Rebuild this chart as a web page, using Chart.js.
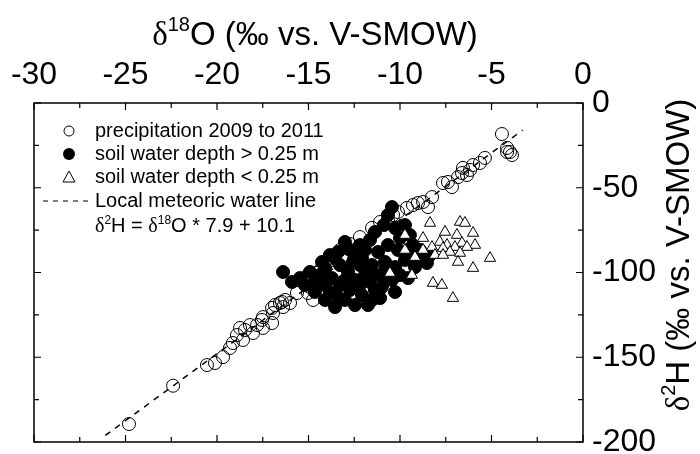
<!DOCTYPE html>
<html>
<head>
<meta charset="utf-8">
<script src="https://cdn.jsdelivr.net/npm/chart.js@4/dist/chart.umd.min.js"></script>
<style>
  body { margin: 0; background: #fff; }
</style>
</head>
<body>
<canvas id="chart" width="700" height="454"></canvas>
<script>
// axis ranges / ticks
var xMajor = [-30, -25, -20, -15, -10, -5, 0];
var xMinor = [-27.5, -22.5, -17.5, -12.5, -7.5, -2.5];
var yMajor = [0, -50, -100, -150, -200];
var yMinor = [-25, -75, -125, -175];

// precipitation 2009 to 2011 (open circles)
var precipX = [-24.81, -22.40, -20.55, -20.11, -19.67, -19.29, -19.13, -18.91, -18.58, -18.47,
  -18.03, -17.81, -17.54, -17.49, -16.99, -16.94, -16.83, -16.45, -16.28, -16.99,
  -16.56, -16.01, -15.63, -15.19, -15.03, -15.03, -15.08, -14.92, -14.54, -14.75,
  -13.99, -16.39, -17.49, -18.20, -18.74, -13.28, -12.73, -12.19, -11.53, -11.09,
  -10.66, -10.38, -10.11, -9.62, -9.29, -9.02, -8.74, -8.47, -8.25, -7.65,
  -7.38, -7.16, -6.83, -6.61, -6.34, -6.17, -6.01, -5.63, -5.36, -6.56,
  -4.43, -4.15, -3.99, -3.88, -4.15, -14.37, -13.66];
var precipY = [-189.4, -166.8, -154.6, -153.4, -149.9, -144.5, -141.6, -136.9, -139.8, -133.9,
  -135.7, -131.0, -128.0, -132.7, -129.8, -123.9, -119.2, -117.4, -116.2, -120.9,
  -118.0, -118.0, -112.1, -106.2, -101.5, -112.1, -104.4, -108.6, -100.3, -116.2,
  -94.4, -120.4, -126.3, -131.0, -132.7, -86.7, -83.2, -79.1, -73.7, -70.2,
  -69.0, -66.1, -64.3, -61.9, -60.2, -59.0, -58.4, -61.4, -55.5, -47.2,
  -46.6, -49.6, -43.7, -41.3, -42.5, -39.5, -36.6, -35.4, -32.4, -38.3,
  -18.3, -26.5, -28.9, -30.7, -28.9, -98.5, -91.4];

// soil water depth > 0.25 m (filled circles)
var deepX = [-10.44, -10.66, -10.88, -10.27, -9.73, -10.0, -9.46, -9.29, -8.91, -9.02,
  -8.53, -8.36, -9.18, -9.73, -10.27, -10.82, -10.44, -10.93, -10.99, -11.37,
  -11.64, -11.91, -11.53, -12.19, -12.46, -11.91, -11.64, -11.37, -12.19, -12.73,
  -13.01, -13.39, -13.55, -13.28, -12.84, -12.46, -12.73, -13.28, -13.72, -14.10,
  -14.37, -14.59, -14.10, -13.83, -13.39, -13.01, -12.46, -12.08, -11.75, -13.55,
  -14.10, -14.65, -15.19, -15.47, -15.90, -16.39, -14.92, -12.57, -12.08, -11.20,
  -10.66, -10.11, -9.56, -10.0, -9.56, -10.27, -11.09, -11.53, -12.19, -13.01,
  -13.83, -14.26, -10.82, -11.37, -11.91];
var deepY = [-61.4, -66.1, -72.0, -73.8, -72.0, -79.7, -77.9, -83.8, -86.7, -92.6,
  -94.4, -89.7, -96.8, -92.6, -96.8, -98.5, -104.4, -102.7, -108.6, -110.3,
  -105.6, -101.5, -95.6, -95.6, -89.7, -86.7, -80.8, -76.1, -83.8, -86.7,
  -82.0, -87.9, -91.5, -95.6, -99.7, -104.4, -110.3, -107.4, -103.3, -97.4,
  -101.5, -104.4, -107.4, -111.5, -114.5, -116.2, -119.2, -113.3, -119.2, -120.4,
  -116.2, -111.5, -107.4, -103.3, -105.6, -99.7, -99.7, -93.8, -91.5, -87.9,
  -83.8, -86.7, -86.7, -101.5, -103.3, -111.5, -115.1, -116.2, -107.4, -104.4,
  -89.7, -93.8, -93.8, -101.5, -97.4];

// soil water depth < 0.25 m (open triangles)
var shallowX = [-8.36, -6.72, -6.45, -7.54, -6.89, -6.01, -8.74, -9.73, -7.82, -7.43,
  -6.61, -5.90, -8.25, -7.65, -7.0, -6.34, -7.27, -6.72, -8.09, -7.65,
  -8.74, -9.18, -9.73, -6.83, -5.08, -6.01, -9.35, -10.55, -8.20, -7.71, -7.11];
var shallowY = [-70.8, -70.2, -70.8, -76.1, -77.9, -76.7, -79.7, -77.9, -82.0, -83.8,
  -82.6, -83.8, -85.0, -85.6, -85.0, -85.0, -87.9, -88.5, -89.7, -89.7,
  -86.7, -90.9, -86.7, -93.8, -91.5, -97.4, -101.5, -100.3, -106.2, -107.4, -115.1];

// local meteoric water line, end points
var lmwlX = [-26.1, -3.3];
var lmwlY = [-196.1, -16.0];

var FONT = '"Liberation Sans", Arial, sans-serif';
var SERIF = '"Liberation Serif", "Times New Roman", serif';

function toPoints(xs, ys) {
  var pts = [];
  for (var i = 0; i < xs.length; i++) {
    pts.push({ x: xs[i], y: ys[i] });
  }
  return pts;
}

// text made of pieces: [text, kind] with kind '', 'serif' or 'sup'
function partFont(kind, size) {
  if (kind === 'serif') return size + 'px ' + SERIF;
  if (kind === 'sup') return Math.round(size * 0.6) + 'px ' + FONT;
  return size + 'px ' + FONT;
}
function richWidth(ctx, parts, size) {
  var w = 0;
  for (var i = 0; i < parts.length; i++) {
    ctx.font = partFont(parts[i][1], size);
    w += ctx.measureText(parts[i][0]).width;
  }
  return w;
}
function drawRich(ctx, parts, x, y, size, align) {
  var w = richWidth(ctx, parts, size);
  var cx = align === 'center' ? x - w / 2 : x;
  ctx.textBaseline = 'alphabetic';
  ctx.textAlign = 'left';
  for (var i = 0; i < parts.length; i++) {
    ctx.font = partFont(parts[i][1], size);
    var dy = parts[i][1] === 'sup' ? -size * 0.42 : 0;
    ctx.fillText(parts[i][0], cx, y + dy);
    cx += ctx.measureText(parts[i][0]).width;
  }
}

var framePlugin = {
  id: 'frame',
  afterDraw: function (chart) {
    var ctx = chart.ctx;
    var a = chart.chartArea;
    var xs = chart.scales.x;
    var ys = chart.scales.y;
    ctx.save();
    ctx.strokeStyle = '#000';
    ctx.fillStyle = '#000';
    ctx.lineWidth = 1.5;
    ctx.strokeRect(a.left, a.top, a.right - a.left, a.bottom - a.top);
    ctx.lineWidth = 1.2;
    ctx.beginPath();
    function xTick(v, len) {
      var p = xs.getPixelForValue(v);
      ctx.moveTo(p, a.top); ctx.lineTo(p, a.top + len);
      ctx.moveTo(p, a.bottom); ctx.lineTo(p, a.bottom - len);
    }
    function yTick(v, len) {
      var p = ys.getPixelForValue(v);
      ctx.moveTo(a.left, p); ctx.lineTo(a.left + len, p);
      ctx.moveTo(a.right, p); ctx.lineTo(a.right - len, p);
    }
    xMajor.forEach(function (v) { xTick(v, 7); });
    xMinor.forEach(function (v) { xTick(v, 5); });
    yMajor.forEach(function (v) { yTick(v, 7); });
    yMinor.forEach(function (v) { yTick(v, 5); });
    ctx.stroke();

    // axis titles
    drawRich(ctx, [['\u03b4', 'serif'], ['18', 'sup'], ['O (\u2030 vs. V-SMOW)', '']], 315, 45, 33, 'center');
    ctx.save();
    ctx.translate(689, 255);
    ctx.rotate(-Math.PI / 2);
    drawRich(ctx, [['\u03b4', 'serif'], ['2', 'sup'], ['H (\u2030 vs. V-SMOW)', '']], 0, 0, 33, 'center');
    ctx.restore();

    // legend
    var lx = 69, tx = 95;
    var rows = [131, 154, 177, 201, 225];
    ctx.lineWidth = 1;
    ctx.beginPath();
    ctx.arc(lx, rows[0], 5, 0, Math.PI * 2);
    ctx.stroke();
    ctx.beginPath();
    ctx.arc(lx, rows[1], 6, 0, Math.PI * 2);
    ctx.fill();
    ctx.beginPath();
    ctx.moveTo(lx, rows[2] - 6);
    ctx.lineTo(lx + 6, rows[2] + 5);
    ctx.lineTo(lx - 6, rows[2] + 5);
    ctx.closePath();
    ctx.stroke();
    ctx.beginPath();
    ctx.setLineDash([5, 5]);
    ctx.moveTo(43, rows[3]);
    ctx.lineTo(90, rows[3]);
    ctx.stroke();
    ctx.setLineDash([]);
    ctx.font = '20px ' + FONT;
    ctx.textAlign = 'left';
    ctx.textBaseline = 'middle';
    ctx.fillText('precipitation 2009 to 2011', tx, rows[0]);
    ctx.fillText('soil water depth > 0.25 m', tx, rows[1]);
    ctx.fillText('soil water depth < 0.25 m', tx, rows[2]);
    ctx.fillText('Local meteoric water line', tx, rows[3]);
    drawRich(ctx, [['\u03b4', 'serif'], ['2', 'sup'], ['H = ', ''], ['\u03b4', 'serif'], ['18', 'sup'], ['O * 7.9 + 10.1', '']], tx, rows[4] + 7, 20, 'left');
    ctx.restore();
  }
};

new Chart(document.getElementById('chart'), {
  type: 'scatter',
  plugins: [framePlugin],
  data: {
    datasets: [
      {
        label: 'soil water depth < 0.25 m',
        data: toPoints(shallowX, shallowY),
        pointStyle: 'triangle',
        pointRadius: 6.5,
        backgroundColor: '#fff',
        borderColor: '#000',
        borderWidth: 1,
        order: 0
      },
      {
        label: 'soil water depth > 0.25 m',
        data: toPoints(deepX, deepY),
        pointStyle: 'circle',
        pointRadius: 6.5,
        backgroundColor: '#000',
        borderColor: '#000',
        borderWidth: 1,
        order: 1
      },
      {
        label: 'precipitation 2009 to 2011',
        data: toPoints(precipX, precipY),
        pointStyle: 'circle',
        pointRadius: 6.5,
        backgroundColor: 'rgba(0,0,0,0)',
        borderColor: '#000',
        borderWidth: 1,
        order: 2
      },
      {
        label: 'Local meteoric water line',
        type: 'line',
        data: toPoints(lmwlX, lmwlY),
        showLine: true,
        pointRadius: 0,
        borderColor: '#000',
        borderWidth: 1.5,
        borderDash: [6, 6],
        fill: false,
        order: 3
      }
    ]
  },
  options: {
    responsive: false,
    animation: false,
    layout: { padding: { left: 34, right: 0, top: 0, bottom: 12 } },
    plugins: {
      legend: { display: false },
      tooltip: { enabled: false }
    },
    scales: {
      x: {
        type: 'linear',
        position: 'top',
        min: -30,
        max: 0,
        afterFit: function (s) { s.height = 103; s.paddingLeft = 0; s.paddingRight = 0; },
        ticks: {
          stepSize: 5,
          maxRotation: 0,
          color: '#000',
          padding: 9,
          font: { family: FONT, size: 32 }
        },
        grid: { display: false, drawTicks: false },
        border: { display: false }
      },
      y: {
        type: 'linear',
        position: 'right',
        min: -200,
        max: 0,
        afterFit: function (s) { s.width = 117; s.paddingTop = 0; s.paddingBottom = 0; },
        ticks: {
          stepSize: 50,
          color: '#000',
          padding: 9,
          font: { family: FONT, size: 32 }
        },
        grid: { display: false, drawTicks: false },
        border: { display: false }
      }
    }
  }
});
</script>
</body>
</html>
